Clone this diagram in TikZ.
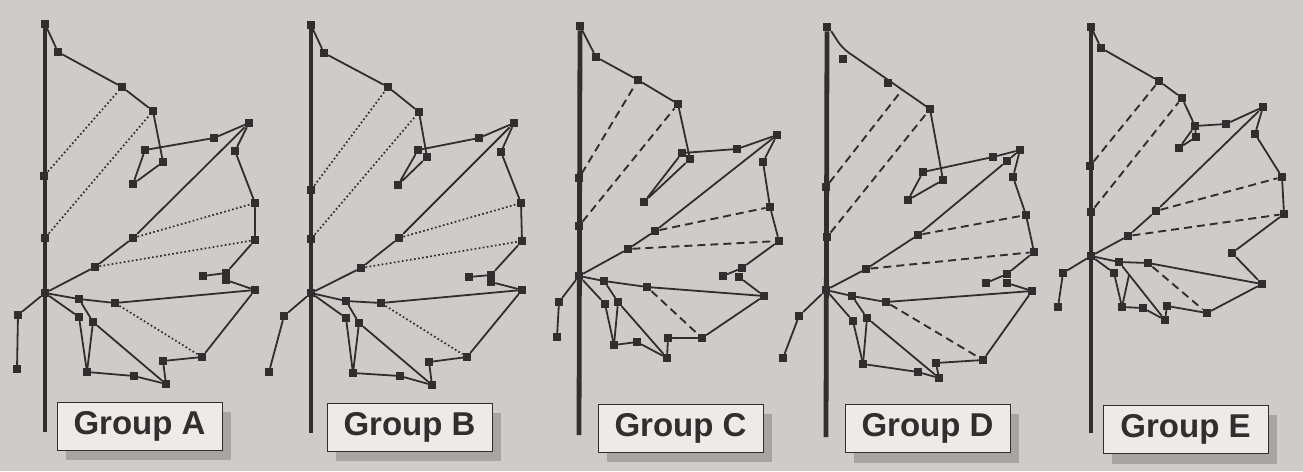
\documentclass[tikz,border=0pt]{standalone}
\usepackage{fontspec}
\setmainfont{Liberation Sans}
\usetikzlibrary{backgrounds,calc}
\definecolor{paper}{RGB}{207,203,200}
\definecolor{ink}{RGB}{48,46,46}
\definecolor{boxfill}{RGB}{237,234,232}
\definecolor{shadowc}{RGB}{168,164,162}
\begin{document}
\begin{tikzpicture}[x=1pt,y=-1pt,
  sq/.style={rectangle,fill=ink,inner sep=0pt,minimum size=8.5pt},
  edge/.style={draw=ink,line width=1.8pt,line cap=round,line join=round},
  dotl/.style={draw=ink,line width=1.7pt,dash pattern=on 1.7pt off 2.4pt},
  dashl/.style={draw=ink,line width=1.9pt,dash pattern=on 8pt off 5pt},
  bar/.style={draw=ink,line width=4.8pt},
  lbl/.style={draw=ink,line width=0.8pt,fill=boxfill,minimum width=165pt,minimum height=48pt,
    inner sep=0pt,font=\bfseries\fontsize{33}{35}\selectfont,text=ink}]
\useasboundingbox (0,0) rectangle (1303,471);

% ---------- Group A nodes
\foreach \n/\x/\y in {t/45/24,p1/58/52,p2/122/87,p3/153/111,p4/163/162,p5/133/184,p6/145/150,
  p7/214/138,p8/249/123,p9/235/151,p10/255/203,p11/255/240,p12/226/273,p12b/226/280,p13/203/276,
  p14/255/290,c/45/293,q1/133/238,q2/95/267,l1/18/315,l2/17/369,b1/44/176,b2/45/238,
  r1/79/299,r2/115/303,r3/79/317,r4/93/322,r5/87/372,r6/134/376,r7/166/384,r8/163/361,r9/202/357}
  \node[sq] (A\n) at (\x,\y) {};
\coordinate (Abot) at (45,432);
% ---------- Group B nodes
\foreach \n/\x/\y in {t/311/25,p1/324/53,p2/388/87,p3/419/112,p4/427/157,p5/398/185,p6/418/150,
  p7/479/138,p8/514/123,p9/501/152,p10/521/203,p11/522/241,p12/491/275,p12b/491/282,p13/469/277,
  p14/522/290,c/311/293,q1/399/238,q2/361/268,l1/284/316,l2/269/372,b1/311/190,b2/311/239,
  r1/346/301,r2/381/303,r3/346/318,r4/359/323,r5/353/373,r6/400/376,r7/432/385,r8/429/362,r9/467/357}
  \node[sq] (B\n) at (\x,\y) {};
\coordinate (Bbot) at (311,433);
% ---------- Group C nodes
\foreach \n/\x/\y in {t/580/26,p1/596/57,p2/638/80,p3/678/104,p4/690/159,p5/644/202,p6/682/153,
  p7/737/149,p8/777/135,p9/763/162,p10/770/207,p11/779/241,p12/742/268,p12b/739/277,p13/723/276,
  p14/764/296,c/579/276,q1/655/231,q2/628/249,l1/559/302,l2/557/337,b1/579/178,b2/579/226,
  r1/604/281,r2/647/287,r3/605/304,r4/618/302,r5/614/345,r6/637/342,r7/667/358,r8/668/338,r9/702/338}
  \node[sq] (C\n) at (\x,\y) {};
\coordinate (Cbot) at (579,435);
% ---------- Group D nodes
\foreach \n/\x/\y in {t/827/27,p1/843/59,p2/888/83,p3/930/109,p4/943/180,p5/908/200,p6/923/172,
  p7/993/157,p8/1020/150,p8b/1007/161,p9/1013/177,p10/1026/215,p11/1034/252,p12/1007/274,p12b/1007/283,
  p13/986/283,p14/1032/291,c/826/290,q1/918/235,q2/866/269,l1/799/316,l2/783/358,b1/826/187,b2/827/237,
  r1/852/296,r2/886/302,r3/853/321,r4/867/318,r5/863/364,r6/918/372,r7/939/378,r8/936/363,r9/983/360}
  \node[sq] (D\n) at (\x,\y) {};
\coordinate (Dbot) at (826,437);
\coordinate (Dk) at (842,48);
\coordinate (Dm) at (902,90);
% ---------- Group E nodes
\foreach \n/\x/\y in {t/1091/27,p1/1101/48,p2/1159/81,p3/1182/98,p4/1195/126,p4b/1196/137,p5/1179/148,
  p7/1226/124,p8/1263/107,p9/1255/134,p10/1282/177,p11/1284/214,p12/1232/253,p14/1262/284,
  c/1091/256,q1/1156/211,q2/1128/236,l1/1063/273,l2/1058/307,b1/1090/166,b2/1091/212,
  r1/1119/262,r2/1148/263,r3/1114/273,r5/1122/307,r6/1143/308,r7/1165/320,r8/1167/306,r9/1207/313}
  \node[sq] (E\n) at (\x,\y) {};
\coordinate (Ebot) at (1091,433);
\coordinate (Er4) at (1129,275);

% ---------- labels
\node[lbl] (LA) at (139.5,426) {Group A};
\node[lbl] (LB) at (409.5,427) {Group B};
\node[lbl] (LC) at (680.5,428) {Group C};
\node[lbl] (LD) at (927.5,428.5) {Group D};
\node[lbl] (LE) at (1185.5,429.5) {Group E};

\begin{scope}[on background layer]
\fill[paper] (0,0) rectangle (1303,471);
\foreach \L in {LA,LB,LC,LD,LE}
  \fill[shadowc] ($(\L.south west)+(9,10)$) rectangle ($(\L.north east)+(9,10)$);

% ===== Group A
\draw[bar] (At) -- (Abot);
\draw[edge] (At)--(Ap1)--(Ap2)--(Ap3)--(Ap4)--(Ap5)--(Ap6)--(Ap7)--(Ap8)--(Ap9)--(Ap10)--(Ap11)--(Ap12)--(Ap13);
\draw[edge] (Ap12b)--(Ap14)--(Ar9)--(Ar8)--(Ar7)--(Ar4)--(Ar1)--(Ac)--(Ar3)--(Ar5)--(Ar6)--(Ar7);
\draw[edge] (Ar5)--(Ar4);
\draw[edge] (Ar1)--(Ar2)--(Ap14);
\draw[edge] (Ac)--(Aq2)--(Aq1)--(Ap8);
\draw[edge] (Ac)--(Al1)--(Al2);
\draw[dotl] (Ab1)--(Ap2); \draw[dotl] (Ab2)--(Ap3);
\draw[dotl] (Aq1)--(Ap10); \draw[dotl] (Aq2)--(Ap11);
\draw[dotl] (Ar2)--(Ar9);

% ===== Group B
\draw[bar] (Bt) -- (Bbot);
\draw[edge] (Bt)--(Bp1)--(Bp2)--(Bp3)--(Bp4)--(Bp5)--(Bp6)--(Bp7)--(Bp8)--(Bp9)--(Bp10)--(Bp11)--(Bp12)--(Bp13);
\draw[edge] (Bp12b)--(Bp14)--(Br9)--(Br8)--(Br7)--(Br4)--(Br1)--(Bc)--(Br3)--(Br5)--(Br6)--(Br7);
\draw[edge] (Br5)--(Br4);
\draw[edge] (Br1)--(Br2)--(Bp14);
\draw[edge] (Bc)--(Bq2)--(Bq1)--(Bp8);
\draw[edge] (Bc)--(Bl1)--(Bl2);
\draw[dotl] (Bb1)--(Bp2); \draw[dotl] (Bb2)--(Bp3);
\draw[dotl] (Bq1)--(Bp10); \draw[dotl] (Bq2)--(Bp11);
\draw[dotl] (Br2)--(Br9);

% ===== Group C
\draw[bar] (Ct) -- (Cbot);
\draw[edge] (Ct)--(Cp1)--(Cp2)--(Cp3)--(Cp4)--(Cp5)--(Cp6)--(Cp7)--(Cp8)--(Cp9)--(Cp10)--(Cp11)--(Cp12)--(Cp13);
\draw[edge] (Cp12b)--(Cp14)--(Cr9)--(Cr8)--(Cr7)--(Cr4)--(Cr1)--(Cc)--(Cr3)--(Cr5)--(Cr6)--(Cr7);
\draw[edge] (Cr5)--(Cr4);
\draw[edge] (Cr1)--(Cr2)--(Cp14);
\draw[edge] (Cc)--(Cq2)--(Cq1)--(Cp8);
\draw[edge] (Cc)--(Cl1)--(Cl2);
\draw[dashl] (Cb1)--(Cp2); \draw[dashl] (Cb2)--(Cp3);
\draw[dashl] (Cq1)--(Cp10); \draw[dashl] (Cq2)--(Cp11);
\draw[dashl] (Cr2)--(Cr9);

% ===== Group D
\draw[bar] (Dt) -- (Dbot);
\draw[edge,rounded corners=8pt] (Dt.south east)--(Dk)--(Dp3.center);
\draw[edge] (Dp3)--(Dp4)--(Dp5)--(Dp6)--(Dp7)--(Dp8)--(Dp9)--(Dp10)--(Dp11)--(Dp12)--(Dp13);
\draw[edge] (Dp12b)--(Dp14)--(Dr9)--(Dr8)--(Dr7)--(Dr4)--(Dr1)--(Dc)--(Dr3)--(Dr5)--(Dr6)--(Dr7);
\draw[edge] (Dr5)--(Dr4);
\draw[edge] (Dr1)--(Dr2)--(Dp14);
\draw[edge] (Dc)--(Dq2)--(Dq1)--(Dp8b)--(Dp8);
\draw[edge] (Dc)--(Dl1)--(Dl2);
\draw[dashl] (Db1)--(Dm); \draw[dashl] (Db2)--(Dp3);
\draw[dashl] (Dq1)--(Dp10); \draw[dashl] (Dq2)--(Dp11);
\draw[dashl] (Dr2)--(Dr9);

% ===== Group E
\draw[bar] (Et) -- (Ebot);
\draw[edge] (Et)--(Ep1)--(Ep2)--(Ep3)--(Ep4)--(Ep7)--(Ep8)--(Ep9)--(Ep10)--(Ep11)--(Ep12)--(Ep14)--(Er9)--(Er8)--(Er7)--(Er1)--(Ec)--(Er3)--(Er5)--(Er6)--(Er7);
\draw[edge] (Ep4)--(Ep5)--(Ep4b)--(Ep4);
\draw[edge] (Er5)--(Er4);
\draw[edge] (Er1)--(Er2)--(Ep14);
\draw[edge] (Ec)--(Eq2)--(Eq1)--(Ep8);
\draw[edge] (Ec)--(El1)--(El2);
\draw[dashl] (Eb1)--(Ep2); \draw[dashl] (Eb2)--(Ep3);
\draw[dashl] (Eq1)--(Ep10); \draw[dashl] (Eq2)--(Ep11);
\draw[dashl] (Er2)--(Er9);
\end{scope}
\end{tikzpicture}
\end{document}
